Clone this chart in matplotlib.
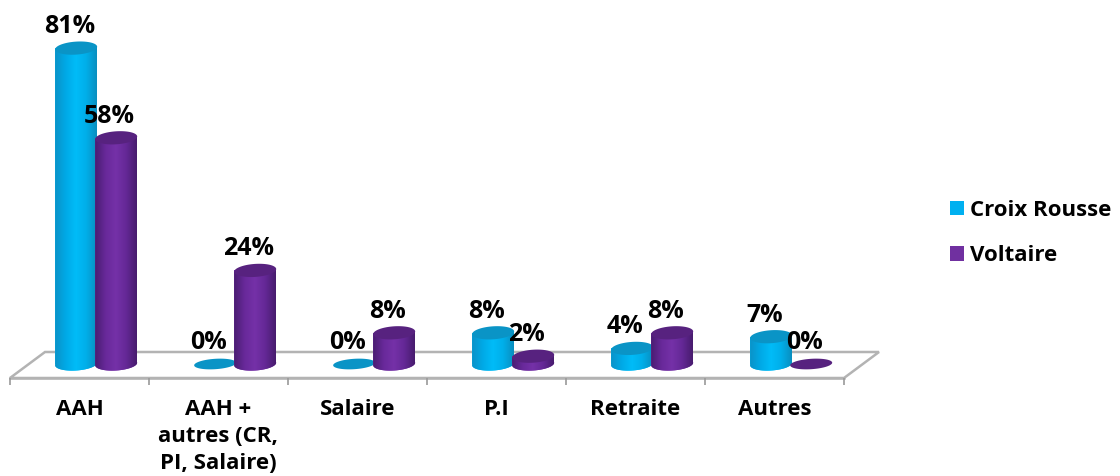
import matplotlib
matplotlib.use('Agg')
import matplotlib.pyplot as plt
import numpy as np
from matplotlib.colors import LinearSegmentedColormap
from matplotlib.patches import Patch, Polygon

# ---- donnees ----
categories = ['AAH', 'AAH +\nautres (CR,\nPI, Salaire)', 'Salaire', 'P.I', 'Retraite', 'Autres']
croix_rousse = [81, 0, 0, 8, 4, 7]
voltaire = [58, 24, 8, 2, 8, 0]

# ---- reglages ----
W, H = 1120, 476
px_x = 139.0     # pixels par categorie
px_y = 3.9       # pixels par %
x0, y0 = 10, 364 # pixel du debut de l'axe et de la base des barres
font = 'Open Sans'

cmap_bleu = LinearSegmentedColormap.from_list('b', ['#0b93c8', '#00a9e6', '#00bcf8', '#00aee9', '#0a8fc0'])
cmap_violet = LinearSegmentedColormap.from_list('v', ['#4a1d72', '#68299a', '#7531a8', '#642896', '#481c6e'])

fig = plt.figure(figsize=(W / 100, H / 100), dpi=100)
ax = fig.add_axes([0, 0, 1, 1])

xlim = (-x0 / px_x, (W - x0) / px_x)
ylim = ((y0 - H) / px_y, y0 / px_y)

larg = 42 / px_x        # largeur d'un cylindre
demi_h = 6.5 / px_y     # demi hauteur des ellipses
pente = 1.3 / px_y      # legere inclinaison des ellipses
t = np.linspace(0, 2 * np.pi, 80)


def ellipse(cx, cy, b=demi_h):
    return np.column_stack((cx + larg / 2 * np.cos(t), cy + b * np.sin(t) + pente * np.cos(t)))


def cylindre(cx, val, cmap, chapeau, z):
    if val == 0:
        # valeur nulle : seulement un disque plat
        ax.add_patch(Polygon(ellipse(cx, 0, demi_h * 0.8), closed=True, fc=chapeau, ec='none', zorder=z))
        return
    ax.bar(cx, val, larg, color=cmap(0.5), zorder=z)
    bas = ellipse(cx, 0)
    ax.add_patch(Polygon(bas, closed=True, fc=cmap(0.5), ec='none', zorder=z))
    # corps avec degrade
    demi_bas = bas[t >= np.pi]
    contour = np.vstack(([cx - larg / 2, val + pente * -1], demi_bas, [cx + larg / 2, val + pente]))
    clip = Polygon(contour, closed=True, transform=ax.transData, fc='none', ec='none')
    ax.add_patch(clip)
    im = ax.imshow(np.linspace(0, 1, 64).reshape(1, -1), cmap=cmap, aspect='auto', zorder=z + 0.1,
                   extent=(cx - larg / 2, cx + larg / 2, -2 * demi_h, val + 2 * pente))
    im.set_clip_path(clip)
    ax.add_patch(Polygon(ellipse(cx, val), closed=True, fc=chapeau, ec='none', zorder=z + 0.2))


# ---- plancher gris ----
y_avant = (y0 - 378) / px_y
y_fond = (y0 - 352) / px_y
nb = len(categories)
decal = 35 / px_x
ax.add_patch(Polygon([[0, y_avant], [decal, y_fond], [nb + decal, y_fond], [nb, y_avant]], closed=True,
                     fc='white', ec='#b3b3b3', lw=1.8, zorder=1))

# ---- cylindres ----
for i in range(nb):
    centre = i + 0.5 + 0.12
    cylindre(centre - 0.144, croix_rousse[i], cmap_bleu, '#0a94c6', 2 + i)
    cylindre(centre + 0.144, voltaire[i], cmap_violet, '#57227f', 2.5 + i)

# ---- etiquettes ----
for i in range(nb):
    centre = i + 0.5 + 0.115
    for dx, val in ((-0.144, croix_rousse[i]), (0.144, voltaire[i])):
        ax.annotate(f'{val}%', (centre + dx, val), xytext=(-4.5, 15.5), textcoords='offset points',
                    ha='center', va='center', fontsize=18, fontweight='bold', family=font,
                    color='black', zorder=20)

# ---- axes ----
ax.set_xlim(xlim)
ax.set_ylim(ylim)
ax.set_yticks([])
for s in ('top', 'left', 'right'):
    ax.spines[s].set_visible(False)
ax.spines['bottom'].set_position(('data', y_avant))
ax.spines['bottom'].set_bounds(0, nb)
ax.spines['bottom'].set_color('#b3b3b3')
ax.spines['bottom'].set_linewidth(1.8)
ax.spines['bottom'].set_zorder(1.5)
ax.set_xticks(np.arange(nb + 1))
ax.set_xticklabels([])
ax.tick_params(axis='x', which='major', length=5, width=1.2, color='#9a9a9a', direction='out')
ax.set_xticks(np.arange(nb) + 0.5, minor=True)
ax.set_xticklabels(categories, minor=True, fontsize=16, fontweight='bold', family=font, linespacing=1.38)
ax.tick_params(axis='x', which='minor', length=0, pad=15)
ax.patch.set_alpha(0)

# ---- legende ----
poignees = [Patch(fc='#00b0f0', ec='none', label='Croix Rousse'), Patch(fc='#7030a0', ec='none', label='Voltaire')]
ax.legend(handles=poignees, loc='center left', bbox_to_anchor=(950 / W, 1 - 233 / H), frameon=False,
          handlelength=0.64, handleheight=0.64, handletextpad=0.28, labelspacing=1.1, borderpad=0, borderaxespad=0,
          prop={'family': font, 'weight': 'bold', 'size': 16})

fig.savefig('out.png', dpi=100)
